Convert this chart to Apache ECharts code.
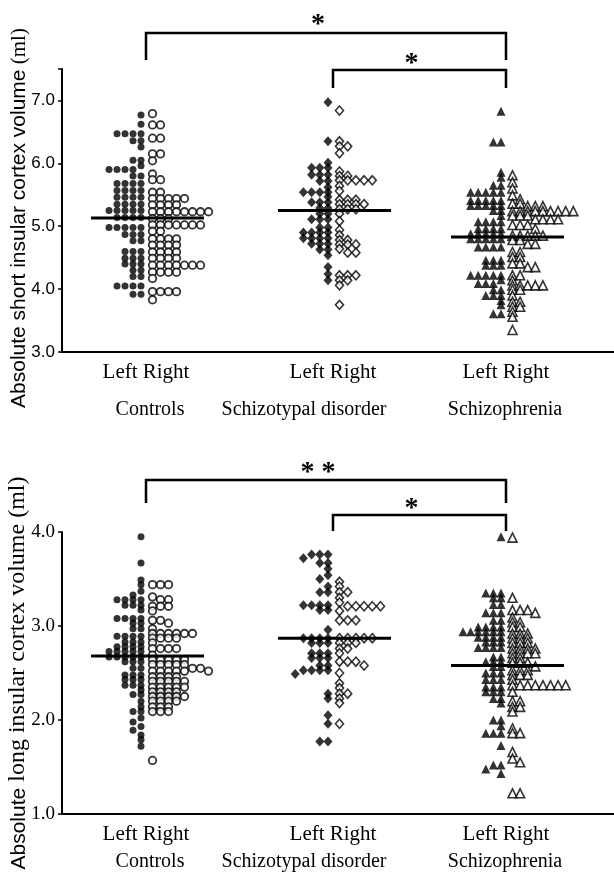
<!DOCTYPE html>
<html><head><meta charset="utf-8">
<script src="https://cdn.jsdelivr.net/npm/echarts/dist/echarts.min.js"></script>
<style>html,body{margin:0;padding:0;background:#fff}#c{width:614px;height:880px}</style>
</head><body><div id="c"></div>
<script>
// ---------------- DATA ----------------
const groups = ['Controls', 'Schizotypal disorder', 'Schizophrenia'];
const sideLabel = 'Left Right';
const shortTitleParts = ['Absolute short insular cortex volume', ' (ml)'];
const longTitleParts = ['Absolute', ' long insular cortex volume (ml)'];
const shortTicks = [3.0, 4.0, 5.0, 6.0, 7.0];
const longTicks = [1.0, 2.0, 3.0, 4.0];
const shortMedians = [5.13, 5.25, 4.83];
const longMedians = [2.68, 2.87, 2.58];

// short insular cortex (ml)
const ctrlShortLeft = [6.77, 6.62, 6.47,6.47,6.47,6.47, 6.36,6.36, 6.26, 6.05,6.05, 5.96, 5.90,5.90,5.90,5.90, 5.80,5.80,
  5.68,5.68,5.68,5.68, 5.57,5.57,5.57,5.57, 5.46,5.46,5.46,5.46, 5.35,5.35,5.35,5.35, 5.25,5.25,5.25,5.25,5.25,
  5.14,5.14,5.14,5.14, 4.98,4.98,4.98,4.98,4.98, 4.87,4.87,4.87, 4.77,4.77, 4.60,4.60,4.60, 4.49,4.49,4.49,
  4.40,4.40,4.40, 4.30,4.30, 4.20,4.20, 4.05,4.05,4.05,4.05, 3.92,3.92];
const ctrlShortRight = [6.79, 6.61,6.61, 6.40,6.40, 6.15,6.15, 6.04, 5.83, 5.74,5.74, 5.54,5.54, 5.44,5.44,5.44,5.44,5.44,
  5.34,5.34,5.34,5.34, 5.23,5.23,5.23,5.23,5.23,5.23,5.23,5.23, 5.12,5.12,5.12, 5.02,5.02,5.02,5.02,5.02,5.02,5.02,
  4.92,4.92, 4.80,4.80,4.80,4.80, 4.70,4.70,4.70,4.70, 4.59,4.59,4.59,4.59, 4.49,4.49,4.49,4.49,
  4.38,4.38,4.38,4.38,4.38,4.38,4.38, 4.27,4.27,4.27,4.27, 4.17, 3.96,3.96,3.96,3.96, 3.83];
const stpdShortLeft = [6.97, 6.35, 6.01, 5.93,5.93,5.93, 5.82,5.82,5.82, 5.72,5.72, 5.62, 5.54,5.54,5.54,5.54, 5.47,
  5.38,5.38,5.38, 5.29,5.29, 5.20,5.20, 5.11,5.11,5.11, 4.98,4.98, 4.90,4.90,4.90,4.90, 4.81,4.81,4.81,4.81,
  4.72,4.72,4.72, 4.63,4.63, 4.54, 4.35, 4.24, 4.14];
const stpdShortRight = [6.84, 6.35, 6.27,6.27, 6.16, 5.87, 5.80,5.80, 5.73,5.73,5.73,5.73,5.73, 5.64, 5.56,
  5.42,5.42,5.42, 5.35,5.35,5.35,5.35, 5.27,5.27,5.27, 5.20, 5.08, 4.94, 4.86, 4.78,4.78, 4.71,4.71,4.71,
  4.64, 4.58,4.58, 4.22,4.22,4.22, 4.14,4.14, 4.06, 3.75];
const schzShortLeft = [6.83, 6.34,6.34, 5.86, 5.78, 5.65,5.65, 5.54,5.54,5.54,5.54,5.54, 5.41,5.41,5.41,5.41,5.41,
  5.33,5.33,5.33,5.33,5.33, 5.25,5.25, 5.17, 5.07,5.07,5.07,5.07, 4.96,4.96,4.96,4.96, 4.88,4.88,4.88,4.88,4.88,
  4.80,4.80,4.80,4.80,4.80, 4.67,4.67,4.67,4.67, 4.46,4.46,4.46, 4.38,4.38,4.38, 4.22,4.22,4.22,4.22,4.22, 4.15,
  4.09,4.09,4.09, 3.99,3.99, 3.90,3.90,3.90, 3.82, 3.75, 3.61,3.61];
const schzShortRight = [5.81, 5.70, 5.60, 5.49, 5.43, 5.36,5.36, 5.32,5.32,5.32, 5.24,5.24,5.24,5.24,5.24,5.24,5.24,5.24,5.24,
  5.17,5.17,5.17, 5.11,5.11,5.11,5.11, 5.02,5.02,5.02, 4.96, 4.85,4.85,4.85,4.85,4.85, 4.78,4.78, 4.72,4.72,
  4.59,4.59, 4.51,4.51, 4.41,4.41, 4.35,4.35, 4.22,4.22, 4.14, 4.06,4.06,4.06,4.06,4.06, 3.99,3.99, 3.90,
  3.80,3.80, 3.72,3.72, 3.64, 3.56, 3.35];

// long insular cortex (ml)
const ctrlLongLeft = [3.95, 3.67, 3.49, 3.44, 3.37, 3.33, 3.28,3.28,3.28,3.28, 3.22,3.22,3.22, 3.17, 3.08,3.08,3.08,3.08,
  3.03,3.03, 2.97,2.97, 2.89,2.89,2.89,2.89, 2.83,2.83,2.83, 2.78,2.78,2.78,2.78, 2.73,2.73,2.73,2.73,2.73,
  2.67,2.67,2.67,2.67,2.67, 2.62,2.62,2.62, 2.55,2.55, 2.48,2.48,2.48, 2.43,2.43,2.43, 2.37,2.37,2.37, 2.32,
  2.27,2.27, 2.20, 2.14, 2.09,2.09, 2.02, 1.98, 1.93, 1.89, 1.84, 1.79, 1.72];
const ctrlLongRight = [3.44,3.44,3.44, 3.31, 3.28,3.28, 3.21,3.21,3.21, 3.16, 3.06,3.06, 3.03, 2.97, 2.92,2.92,2.92,2.92,2.92,2.92,
  2.87,2.87,2.87,2.87, 2.82, 2.76,2.76,2.76,2.76, 2.69, 2.64,2.64,2.64,2.64,2.64, 2.59,2.59,2.59,2.59,2.59, 2.55,2.55,
  2.52,2.52,2.52,2.52,2.52,2.52, 2.46,2.46,2.46,2.46, 2.41,2.41,2.41,2.41,2.41, 2.35,2.35,2.35,2.35,2.35,
  2.30,2.30,2.30,2.30, 2.25,2.25,2.25,2.25,2.25, 2.20,2.20,2.20,2.20, 2.14,2.14,2.14, 2.09,2.09,2.09, 1.57];
const stpdLongLeft = [3.76,3.76,3.76, 3.72, 3.67,3.67, 3.61, 3.54, 3.50, 3.42, 3.36,3.36, 3.22,3.22,3.22,3.22, 3.17,3.17,
  2.96, 2.87,2.87,2.87,2.87, 2.82,2.82,2.82, 2.71,2.71,2.71, 2.66,2.66,2.66, 2.58,2.58, 2.53,2.53,2.53,2.53, 2.49,
  2.28, 2.23, 2.05, 1.96, 1.77,1.77];
const stpdLongRight = [3.47, 3.42, 3.36,3.36, 3.30, 3.25, 3.21,3.21,3.21,3.21,3.21, 3.16, 3.06,3.06,3.06,
  2.87,2.87,2.87,2.87,2.87, 2.82,2.82,2.82, 2.76,2.76, 2.71, 2.62,2.62,2.62, 2.58, 2.50, 2.39, 2.34, 2.28,2.28,
  2.23, 2.18, 1.96];
const schzLongLeft = [3.95, 3.35,3.35,3.35, 3.30,3.30, 3.23,3.23, 3.14,3.14,3.14, 3.06,3.06, 2.99,2.99,2.99,2.99,
  2.94,2.94,2.94,2.94,2.94,2.94, 2.88,2.88,2.88,2.88, 2.83,2.83,2.83, 2.77,2.77,2.77,2.77, 2.67,2.67, 2.62,2.62,2.62,
  2.57,2.57, 2.50,2.50,2.50, 2.43,2.43,2.43, 2.35,2.35,2.35, 2.30,2.30,2.30, 2.23,2.23, 2.18, 2.00,2.00, 1.94,
  1.86,1.86,1.86, 1.73, 1.52,1.52, 1.48, 1.43];
const schzLongRight = [3.94, 3.30, 3.17,3.17,3.17, 3.14, 3.09, 3.04,3.04, 2.99,2.99, 2.92,2.92,2.92, 2.87,2.87,2.87,
  2.82,2.82,2.82, 2.76,2.76,2.76,2.76, 2.71,2.71,2.71,2.71, 2.66,2.66, 2.61,2.61,2.61, 2.57, 2.53,2.53,2.53,
  2.48,2.48,2.48, 2.43, 2.37,2.37,2.37,2.37,2.37,2.37,2.37,2.37, 2.30, 2.20,2.20, 2.14,2.14, 2.09, 1.91,
  1.86,1.86, 1.66, 1.59, 1.55, 1.22,1.22];

// ---------------- LAYOUT ----------------
const W = 614, H = 880;
const GL = 62;
const XMAX = W - GL;
const centers = [84, 271, 444];
const colOff = [-5, 6.5];
const serif = '"Liberation Serif", "Times New Roman", serif';
const sans = '"Liberation Sans", Arial, sans-serif';
const panels = [
  {top: 69, bottom: 352, min: 3, max: 7.5, ticks: shortTicks, medians: shortMedians,
   tickFont: sans, tickSize: 17,
   title: shortTitleParts, titleFonts: ['21px ' + sans, '21px ' + serif], titleX: 19, titleY: 218,
   data: [[ctrlShortLeft, ctrlShortRight],[stpdShortLeft, stpdShortRight],[schzShortLeft, schzShortRight]],
   labY: 372, grpY: 410,
   brackets: [{y: 33, drop: 60, from: 0, star: '*', sy: 18}, {y: 70, drop: 88, from: 1, star: '*', sy: 57}]},
  {top: 532, bottom: 814, min: 1, max: 4, ticks: longTicks, medians: longMedians,
   tickFont: serif, tickSize: 19,
   title: longTitleParts, titleFonts: ['21px ' + sans, '24px ' + serif], titleX: 18, titleY: 673,
   data: [[ctrlLongLeft, ctrlLongRight],[stpdLongLeft, stpdLongRight],[schzLongLeft, schzLongRight]],
   labY: 834, grpY: 862,
   brackets: [{y: 480, drop: 503, from: 0, star: '* *', sy: 466}, {y: 515, drop: 531, from: 1, star: '*', sy: 502}]}
];
const markers = [
  [{symbol:'circle', symbolSize:7, itemStyle:{color:'#000'}},
   {symbol:'circle', symbolSize:7.5, itemStyle:{color:'#fff', borderColor:'#000', borderWidth:1.8}}],
  [{symbol:'diamond', symbolSize:[9,10], itemStyle:{color:'#000'}},
   {symbol:'diamond', symbolSize:[8,9], itemStyle:{color:'#fff', borderColor:'#000', borderWidth:1.6}}],
  [{symbol:'triangle', symbolSize:[9,9], itemStyle:{color:'#000'}},
   {symbol:'triangle', symbolSize:[9,9], itemStyle:{color:'#fff', borderColor:'#000', borderWidth:1.6}}]
];
const DX = [8, 8.2, 7.6];
const MINPX = 4;

// beeswarm-like dodge computed from the values
function dodge(values, colX, dir, dx, pxPerUnit) {
  const sorted = values.slice().sort((a, b) => b - a);
  const slots = [];
  return sorted.map(v => {
    const yp = v * pxPerUnit;
    let k = 0;
    while (slots[k] && slots[k].some(p => Math.abs(p - yp) < MINPX)) k++;
    (slots[k] = slots[k] || []).push(yp);
    return [colX + dir * k * dx, v];
  });
}

const grid = [], xAxis = [], yAxis = [], series = [], graphic = [];
panels.forEach((p, pi) => {
  grid.push({left: GL, right: 0, top: p.top, bottom: H - p.bottom});
  xAxis.push({gridIndex: pi, type: 'value', min: 0, max: XMAX, axisLine: {show: true, lineStyle: {color: '#000', width: 2}},
    axisTick: {show: false}, axisLabel: {show: false}, splitLine: {show: false}});
  yAxis.push({gridIndex: pi, type: 'value', min: p.min, max: p.max, interval: 1,
    axisLine: {show: true, onZero: false, lineStyle: {color: '#000', width: 2}},
    axisTick: {show: true, length: 4, lineStyle: {color: '#000', width: 1.5}},
    axisLabel: {color: '#000', fontFamily: p.tickFont, fontSize: p.tickSize, margin: 7,
      formatter: v => p.ticks.some(t => Math.abs(t - v) < 1e-6) ? v.toFixed(1) : ''},
    splitLine: {show: false}});
  const ppu = (p.bottom - p.top) / (p.max - p.min);
  p.data.forEach((pair, gi) => {
    pair.forEach((vals, side) => {
      const dir = side === 0 ? -1 : 1;
      series.push(Object.assign({type: 'scatter', xAxisIndex: pi, yAxisIndex: pi, silent: true, animation: false,
        data: dodge(vals, centers[gi] + colOff[side], dir, DX[gi], ppu), z: 2}, markers[gi][side]));
    });
    series.push({type: 'line', xAxisIndex: pi, yAxisIndex: pi, silent: true, animation: false, symbol: 'none', z: 5,
      lineStyle: {color: '#000', width: 3},
      data: [[centers[gi] - 55, p.medians[gi]], [centers[gi] + 58, p.medians[gi]]]});
    graphic.push({type: 'text', x: GL + centers[gi], y: p.labY,
      style: {text: sideLabel, font: '21px ' + serif, fill: '#000', textAlign: 'center', textVerticalAlign: 'middle'}});
  });
  const gx = [150, 304, 505];
  groups.forEach((g, gi) => graphic.push({type: 'text', x: gx[gi], y: p.grpY,
    style: {text: g, font: '20px ' + serif, fill: '#000', textAlign: 'center', textVerticalAlign: 'middle'}}));
  graphic.push({type: 'text', x: p.titleX, y: p.titleY, rotation: Math.PI / 2,
    style: {text: '{a|' + p.title[0] + '}{b|' + p.title[1] + '}', fill: '#000', textAlign: 'center', textVerticalAlign: 'middle',
      rich: {a: {font: p.titleFonts[0], fill: '#000', verticalAlign: 'bottom'}, b: {font: p.titleFonts[1], fill: '#000', verticalAlign: 'bottom'}}}});
  p.brackets.forEach(b => {
    const x1 = GL + centers[b.from], x2 = GL + centers[2];
    graphic.push({type: 'polyline', shape: {points: [[x1, b.drop], [x1, b.y], [x2, b.y], [x2, b.drop]]},
      style: {stroke: '#000', lineWidth: 2.5, fill: null}});
    graphic.push({type: 'text', x: (x1 + x2) / 2 - 8, y: b.sy + 7,
      style: {text: b.star, font: 'bold 28px ' + serif, fill: '#000', textAlign: 'center', textVerticalAlign: 'middle'}});
  });
});

const chart = echarts.init(document.getElementById('c'), null, {renderer: 'canvas'});
chart.setOption({backgroundColor: '#fff', animation: false, grid, xAxis, yAxis, series, graphic});
</script></body></html>
